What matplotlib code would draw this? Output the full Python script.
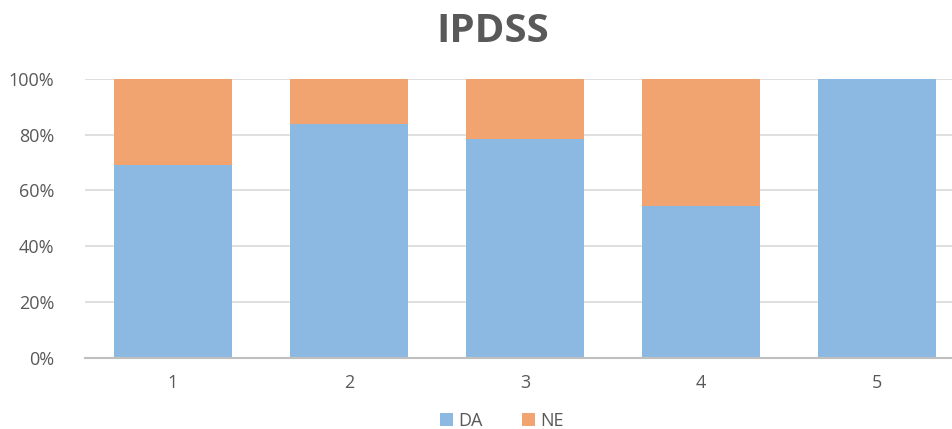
import matplotlib.pyplot as plt
import numpy as np

# data (percent)
categories = ['1', '2', '3', '4', '5']
da_values = [69, 84, 78.5, 54.5, 100]
ne_values = [31, 16, 21.5, 45.5, 0]
y_ticks = [0, 20, 40, 60, 80, 100]

blue = '#8CB9E2'
orange = '#F1A46F'
text_color = '#595959'

plt.rcParams['font.family'] = ['Open Sans', 'DejaVu Sans']

W, H = 953, 429
fig = plt.figure(figsize=(W / 100, H / 100), dpi=100)
ax = fig.add_axes([85 / W, (H - 357.7) / H, (965 - 85) / W, 278.7 / H])

x = np.arange(1, len(categories) + 1)
ax.bar(x, da_values, width=0.67, color=blue, label='DA', zorder=2)
ax.bar(x, ne_values, width=0.67, bottom=da_values, color=orange, label='NE', zorder=2)

ax.set_xlim(0.5, 5.5)
ax.set_ylim(0, 100)
ax.set_yticks(y_ticks)
ax.set_yticklabels([f'{t}%' for t in y_ticks])
ax.set_xticks(x)
ax.set_xticklabels(categories)
ax.tick_params(axis='both', length=0, labelsize=13, colors=text_color)
ax.tick_params(axis='y', pad=22)
ax.tick_params(axis='x', pad=12)

ax.yaxis.grid(True, color='#D9D9D9', linewidth=1.2, zorder=0)
ax.set_axisbelow(True)
for side in ['top', 'right', 'left']:
    ax.spines[side].set_visible(False)
ax.spines['bottom'].set_color('#BFBFBF')
ax.spines['bottom'].set_linewidth(1.5)

fig.text(492.5 / W, 1 - 31 / H, 'IPDSS', ha='center', va='center',
         fontsize=29, fontweight='bold', color=text_color)

leg = fig.legend(loc='center', bbox_to_anchor=(502 / W, 1 - 421 / H), ncol=2,
                 frameon=False, fontsize=13, handlelength=0.7, handleheight=0.7,
                 handletextpad=0.3, columnspacing=2.2, labelcolor=text_color)

fig.savefig('out.png', dpi=100)
